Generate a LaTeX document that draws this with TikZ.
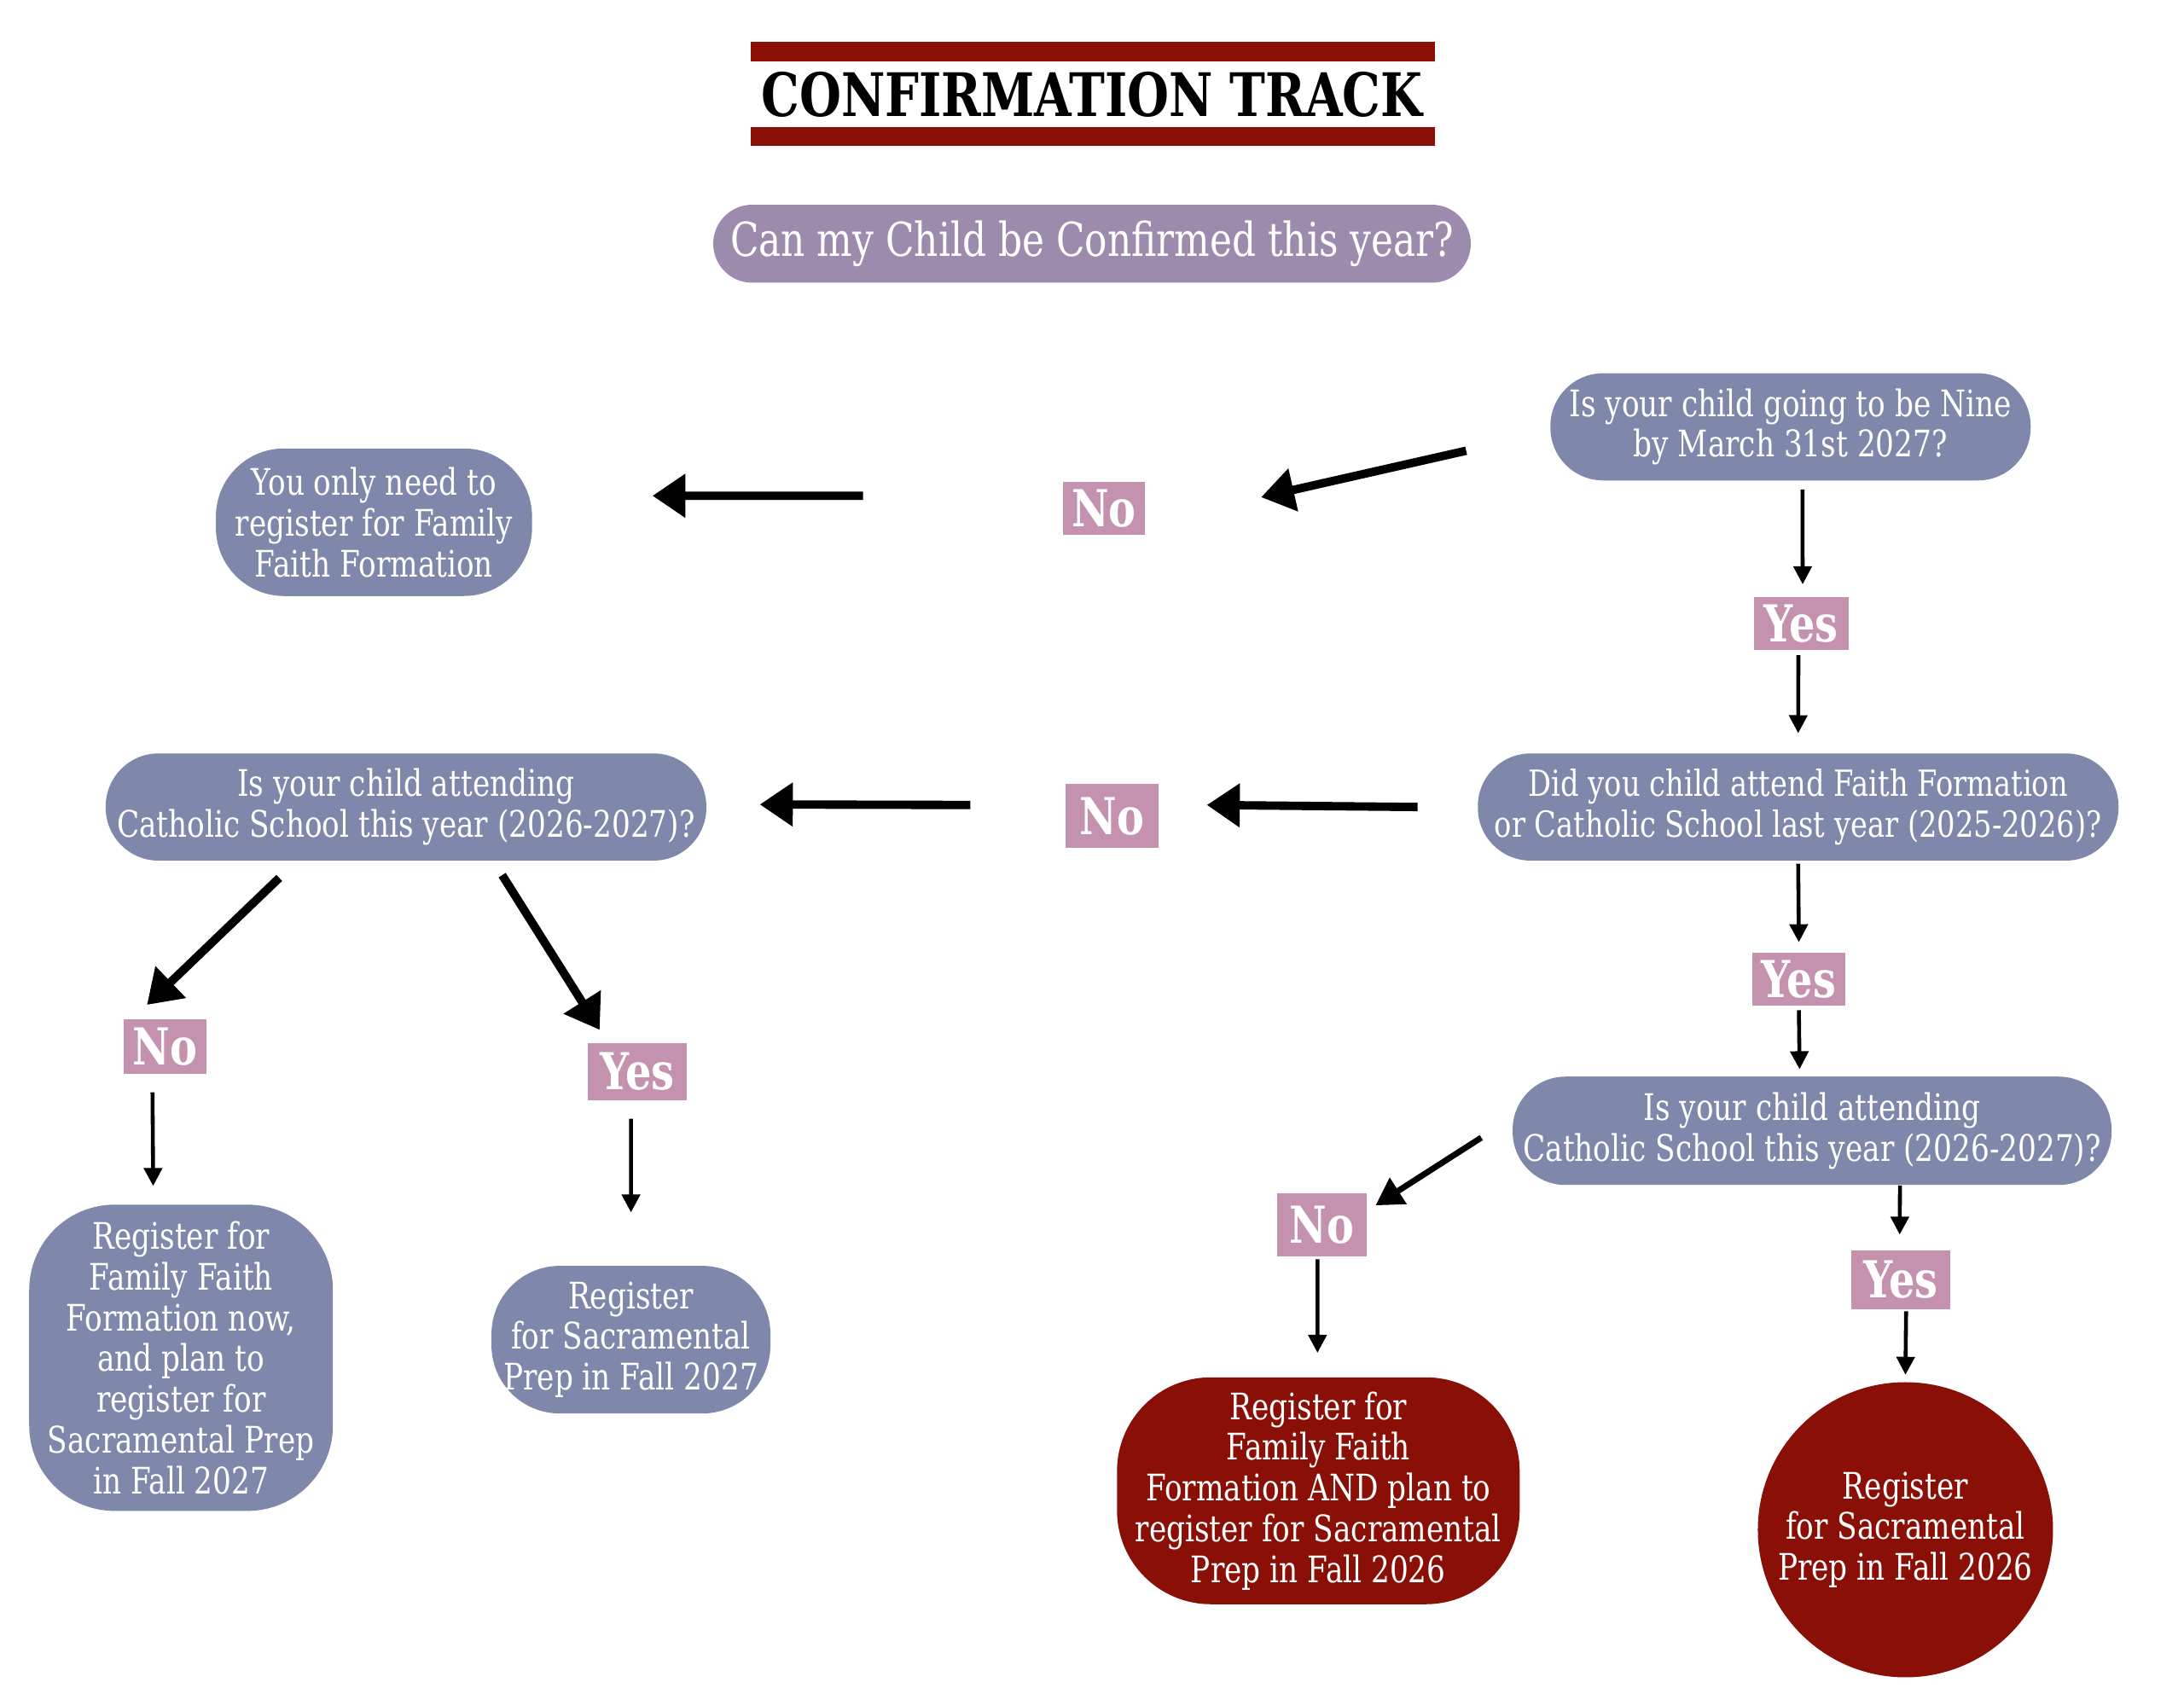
\documentclass[tikz,border=0pt]{standalone}
\usepackage{fontspec}
\setmainfont{DejaVu Serif}[FakeStretch=0.8]
\usepackage{tikz}
\usetikzlibrary{arrows.meta, positioning, shapes.geometric}
\definecolor{slate}{HTML}{7F87AB}
\definecolor{lilac}{HTML}{9C8BAD}
\definecolor{rose}{HTML}{C491AF}
\definecolor{deepred}{HTML}{8A1007}
\tikzstyle{pill} = [rectangle, fill=slate, text=white, align=center, inner sep=0pt, font=\fontsize{12.2}{13.6}\selectfont]
\tikzstyle{answer} = [rectangle, fill=rose, text=white, inner sep=0pt, font=\bfseries\fontsize{17}{17}\selectfont]
\tikzstyle{arrow} = [line width=1.3pt, -{Triangle[length=6pt, width=6pt]}]
\tikzstyle{midarrow} = [line width=2pt, -{Triangle[length=9pt, width=10pt]}]
\tikzstyle{bigarrow} = [line width=2.8pt, -{Triangle[length=11pt, width=14pt]}]

\begin{document}
\begin{tikzpicture}[x=0.16327mm, y=-0.16327mm]
\useasboundingbox (0,0) rectangle (1568,1212);

% title with bars
\fill[deepred] (539,30) rectangle (1030,44);
\fill[deepred] (539,91) rectangle (1030,105);
\node[font=\bfseries\fontsize{20}{20}\selectfont] (title) at (784,68) {CONFIRMATION TRACK};

\node[pill, fill=lilac, minimum width=8.88cm, minimum height=0.914cm, rounded corners=0.457cm, font=\fontsize{15.6}{18}\selectfont] (ask) at (784,175) {Can my Child be Confirmed this year?};

% questions
\node[pill, minimum width=5.63cm, minimum height=1.257cm, rounded corners=0.62cm] (nine) at (1285.5,306.5) {Is your child going to be Nine\\by March 31st 2027?};
\node[pill, minimum width=7.51cm, minimum height=1.257cm, rounded corners=0.62cm, font=\fontsize{12}{13.6}\selectfont] (did) at (1291,579.5) {Did you child attend Faith Formation\\or Catholic School last year (2025-2026)?};
\node[pill, minimum width=7.04cm, minimum height=1.257cm, rounded corners=0.62cm] (cathL) at (291.5,579.5) {Is your child attending\\Catholic School this year (2026-2027)?};
\node[pill, minimum width=7.02cm, minimum height=1.27cm, rounded corners=0.62cm] (cathR) at (1301,812) {Is your child attending\\Catholic School this year (2026-2027)?};

% outcomes
\node[pill, minimum width=3.706cm, minimum height=1.73cm, rounded corners=0.8cm] (only) at (268.5,375) {You only need to\\register for Family\\Faith Formation};
\node[pill, minimum width=3.56cm, minimum height=3.59cm, rounded corners=1.0cm] (famL) at (130,975) {Register for\\Family Faith\\Formation now,\\and plan to\\register for\\Sacramental Prep\\in Fall 2027};
\node[pill, minimum width=3.27cm, minimum height=1.73cm, rounded corners=0.8cm] (sacL) at (453,962) {Register\\for Sacramental\\Prep in Fall 2027};
\node[pill, fill=deepred, minimum width=4.72cm, minimum height=2.66cm, rounded corners=1.1cm] (redL) at (946.5,1070.5) {Register for\\Family Faith\\Formation AND plan to\\register for Sacramental\\Prep in Fall 2026};
\node[pill, fill=deepred, circle, minimum size=3.46cm] (redC) at (1368,1098.5) {Register\\for Sacramental\\Prep in Fall 2026};

% answers
\node[answer, minimum width=0.963cm, minimum height=0.62cm] (no1) at (792.5,365) {No};
\node[answer, minimum width=1.11cm, minimum height=0.62cm] (yes1) at (1293,448) {Yes};
\node[answer, minimum width=1.094cm, minimum height=0.75cm] (no2) at (798.5,586) {No};
\node[answer, minimum width=1.094cm, minimum height=0.62cm] (yes3) at (1291.5,703) {Yes};
\node[answer, minimum width=0.963cm, minimum height=0.637cm] (no3) at (118.5,751.5) {No};
\node[answer, minimum width=1.16cm, minimum height=0.67cm] (yes2) at (457.5,769.5) {Yes};
\node[answer, minimum width=1.045cm, minimum height=0.735cm] (no4) at (949,879.5) {No};
\node[answer, minimum width=1.16cm, minimum height=0.686cm] (yes4) at (1364.5,919) {Yes};

% connectors
\draw[bigarrow] ([xshift=-0.98cm, yshift=-0.28cm]nine.west) -- ([xshift=1.355cm, yshift=0.13cm]no1.east);
\draw[bigarrow] ([xshift=-2.335cm, yshift=0.147cm]no1.west) -- ([xshift=1.404cm, yshift=0.31cm]only.east);
\draw[arrow] ([xshift=0.14cm, yshift=-0.1cm]nine.south) -- ([xshift=0.02cm, yshift=0.147cm]yes1.north);
\draw[arrow] ([xshift=-0.03cm, yshift=-0.05cm]yes1.south) -- ([yshift=0.23cm]did.north);
\draw[bigarrow] ([xshift=-0.70cm]did.west) -- ([xshift=0.555cm, yshift=0.13cm]no2.east);
\draw[bigarrow] ([xshift=-1.11cm, yshift=0.13cm]no2.west) -- ([xshift=0.62cm, yshift=0.03cm]cathL.east);
\draw[bigarrow] ([xshift=-1.486cm, yshift=-0.196cm]cathL.south) -- ([xshift=-0.212cm, yshift=0.163cm]no3.north);
\draw[bigarrow] ([xshift=1.127cm, yshift=-0.163cm]cathL.south) -- ([xshift=-0.44cm, yshift=0.147cm]yes2.north);
\draw[arrow] ([xshift=-0.147cm, yshift=-0.212cm]no3.south) -- ([xshift=-0.327cm, yshift=0.212cm]famL.north);
\draw[arrow] ([xshift=-0.073cm, yshift=-0.212cm]yes2.south) -- ([yshift=0.62cm]sacL.north);
\draw[arrow] ([yshift=-0.03cm]did.south) -- ([yshift=0.114cm]yes3.north);
\draw[arrow] ([yshift=-0.05cm]yes3.south) -- ([xshift=-0.147cm, yshift=0.08cm]cathR.north);
\draw[midarrow] ([xshift=-0.36cm, yshift=-0.08cm]cathR.west) -- ([xshift=0.1cm, yshift=-0.147cm]no4.north east);
\draw[arrow] ([xshift=-0.05cm, yshift=-0.03cm]no4.south) -- ([xshift=-0.01cm, yshift=0.28cm]redL.north);
\draw[arrow] ([xshift=1.03cm]cathR.south) -- ([xshift=-0.01cm, yshift=0.18cm]yes4.north);
\draw[arrow] ([xshift=0.065cm, yshift=-0.02cm]yes4.south) -- ([yshift=0.08cm]redC.north);
\end{tikzpicture}
\end{document}
